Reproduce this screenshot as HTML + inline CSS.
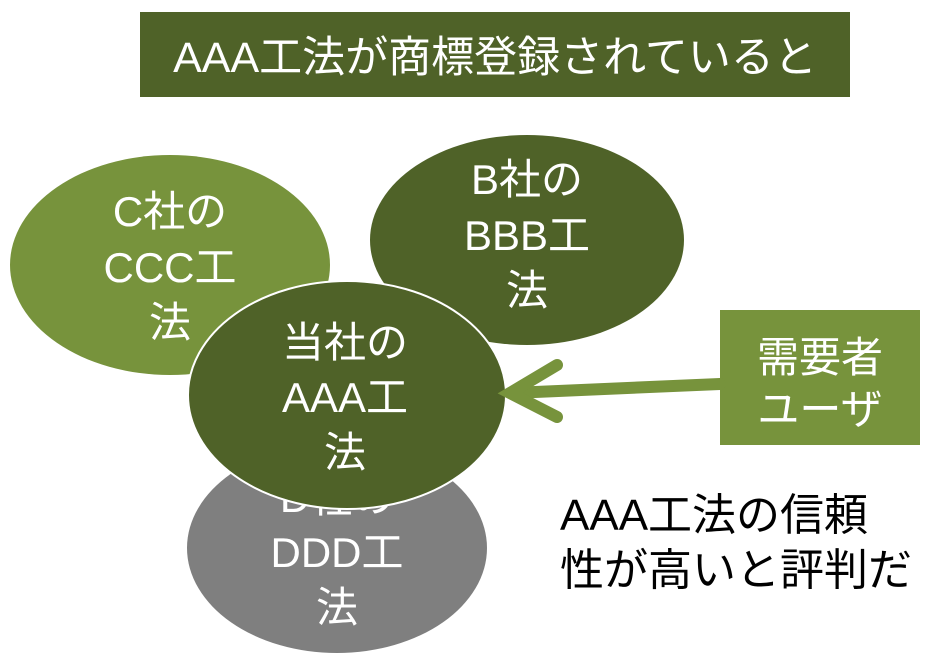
<!DOCTYPE html>
<html><head><meta charset="utf-8"><style>
body{margin:0;background:#fff;width:931px;height:661px;overflow:hidden;font-family:"Liberation Sans","Noto Sans CJK JP",sans-serif;}
</style></head><body>
<svg width="931" height="661" xmlns="http://www.w3.org/2000/svg" style="position:absolute;left:0;top:0" font-family="Liberation Sans, Noto Sans CJK JP, sans-serif">
<rect x="140" y="12" width="710" height="85" fill="#4f6228"/>
<text x="495" y="72" font-size="43" fill="#fff" text-anchor="middle">AAA工法が商標登録されていると</text>
<ellipse cx="170" cy="265" rx="160" ry="110" fill="#77933c"/>
<g fill="#fff" font-size="42" text-anchor="middle">
<text x="170" y="226">C社の</text><text x="170" y="282">CCC工</text><text x="170" y="337">法</text></g>
<ellipse cx="527" cy="240" rx="157" ry="105" fill="#4f6228"/>
<g fill="#fff" font-size="42" text-anchor="middle">
<text x="527" y="194">B社の</text><text x="527" y="250">BBB工</text><text x="527" y="305">法</text></g>
<ellipse cx="337" cy="548" rx="150" ry="105" fill="#7f7f7f"/>
<g fill="#fff" font-size="42" text-anchor="middle">
<text x="337" y="512">D社の</text><text x="337" y="567">DDD工</text><text x="337" y="622">法</text></g>
<ellipse cx="347" cy="395" rx="159" ry="114" fill="#4f6228" stroke="#fff" stroke-width="2"/>
<g fill="#fff" font-size="42" text-anchor="middle">
<text x="345" y="357">当社の</text><text x="345" y="412">AAA工</text><text x="345" y="467">法</text></g>
<rect x="720" y="310" width="200" height="135" fill="#77933c"/>
<g fill="#fff" font-size="42" text-anchor="middle">
<text x="820" y="372">需要者</text><text x="820" y="424">ユーザ</text></g>
<g stroke="#77933c" stroke-width="12" stroke-linecap="round" fill="none">
<line x1="720" y1="384" x2="512" y2="393"/>
<polyline points="557,365 510,393 557,417" stroke-linejoin="miter"/>
</g>
<g fill="#000" font-size="44">
<text x="560" y="530">AAA工法の信頼</text><text x="560" y="585">性が高いと評判だ</text></g>
</svg>
</body></html>
